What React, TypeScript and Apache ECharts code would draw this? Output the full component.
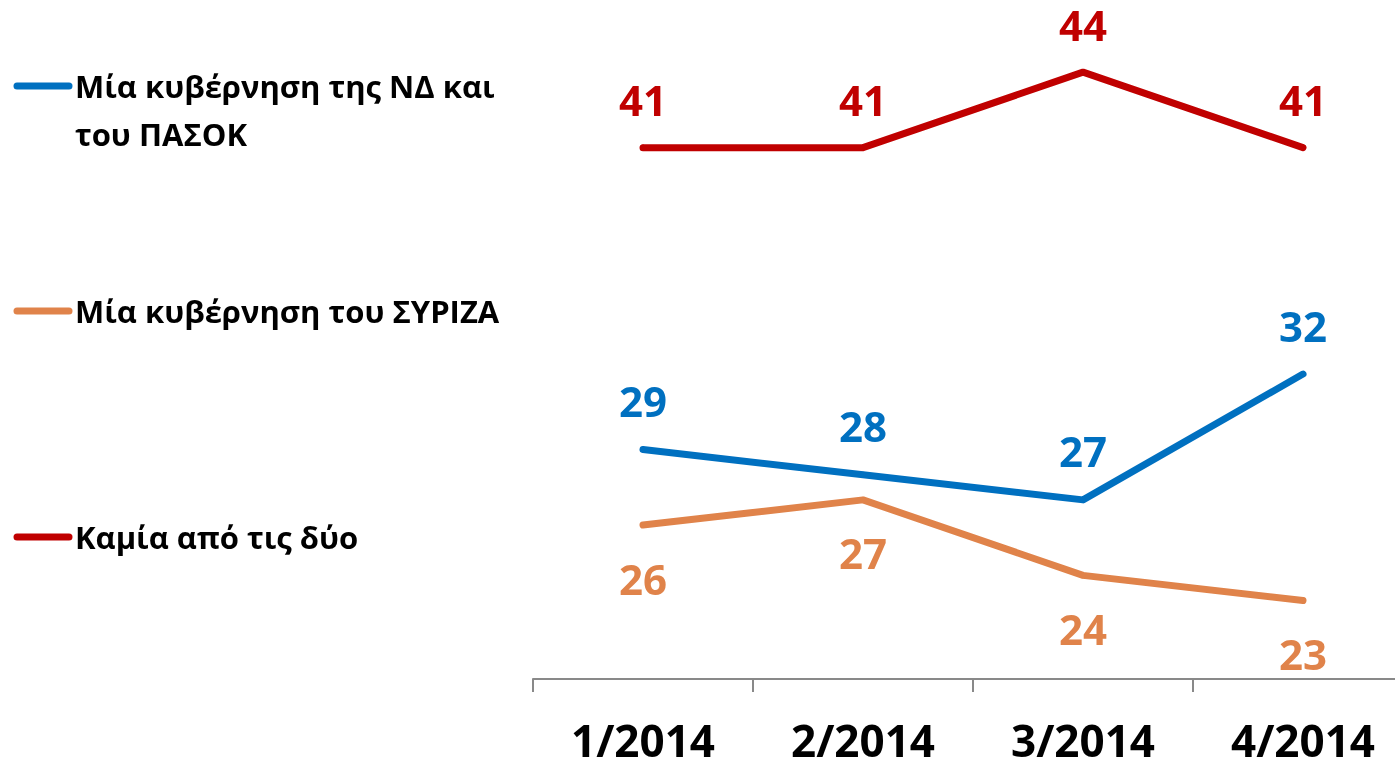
import React, { useEffect, useRef } from "react";
import * as echarts from "echarts";

const categories = ["1/2014", "2/2014", "3/2014", "4/2014"];
const seriesNames = [
  "Μία κυβέρνηση της ΝΔ και του ΠΑΣΟΚ",
  "Μία κυβέρνηση του ΣΥΡΙΖΑ",
  "Καμία από τις δύο",
];
const legendLabels = [
  "Μία κυβέρνηση της ΝΔ και\nτου ΠΑΣΟΚ",
  "Μία κυβέρνηση του ΣΥΡΙΖΑ",
  "Καμία από τις δύο",
];
const ndPasok = [29, 28, 27, 32];
const syriza = [26, 27, 24, 23];
const neither = [41, 41, 44, 41];
const colors = ["#0070C0", "#E0834A", "#C00000"];

const FONT = "'Open Sans', 'Noto Sans', sans-serif";

export default function App() {
  const ref = useRef<HTMLDivElement>(null);
  useEffect(() => {
    if (!ref.current) return;
    const chart = echarts.init(ref.current, null, { renderer: "svg" });
    const values = [ndPasok, syriza, neither];
    const labelPos = ["top", "bottom", "top"];
    const labelDist = [25, 29, 24];
    const legendY = [86, 311, 537];
    const graphic: any[] = [];
    legendLabels.forEach((t, i) => {
      graphic.push({
        type: "line",
        shape: { x1: 17, y1: legendY[i], x2: 69, y2: legendY[i] },
        style: { stroke: colors[i], lineWidth: 7, lineCap: "round" },
      });
      graphic.push({
        type: "text",
        x: 75,
        y: legendY[i] - 24,
        style: {
          text: t,
          fill: "#000",
          font: `bold 31px ${FONT}`,
          lineHeight: 48,
          verticalAlign: "top",
          align: "left",
        },
      });
    });
    chart.setOption({
      animation: false,
      graphic,
      grid: { left: 533, top: 47, width: 880, height: 629 },
      xAxis: {
        type: "category",
        data: categories,
        boundaryGap: true,
        offset: 3,
        axisLine: { show: true, lineStyle: { color: "#898989", width: 2 } },
        axisTick: {
          show: true,
          length: 13,
          lineStyle: { color: "#898989", width: 2 },
        },
        axisLabel: {
          color: "#000",
          fontFamily: FONT,
          fontWeight: "bold",
          fontSize: 44,
          lineHeight: 40,
          margin: 41,
        },
      },
      yAxis: {
        type: "value",
        min: 20,
        max: 45,
        show: false,
        splitLine: { show: false },
      },
      series: seriesNames.map((name, i) => ({
        name,
        type: "line",
        data: values[i],
        symbol: "circle",
        symbolSize: 6,
        showSymbol: true,
        lineStyle: { color: colors[i], width: 7, cap: "round", join: "round" },
        itemStyle: { color: colors[i] },
        label: {
          show: true,
          position: labelPos[i],
          distance: labelDist[i],
          color: colors[i],
          fontFamily: FONT,
          fontWeight: "bold",
          fontSize: 42,
        },
      })),
    });
    return () => chart.dispose();
  }, []);
  return (
    <div
      ref={ref}
      style={{ position: "fixed", left: 0, top: 0, width: 1420, height: 762 }}
    />
  );
}
